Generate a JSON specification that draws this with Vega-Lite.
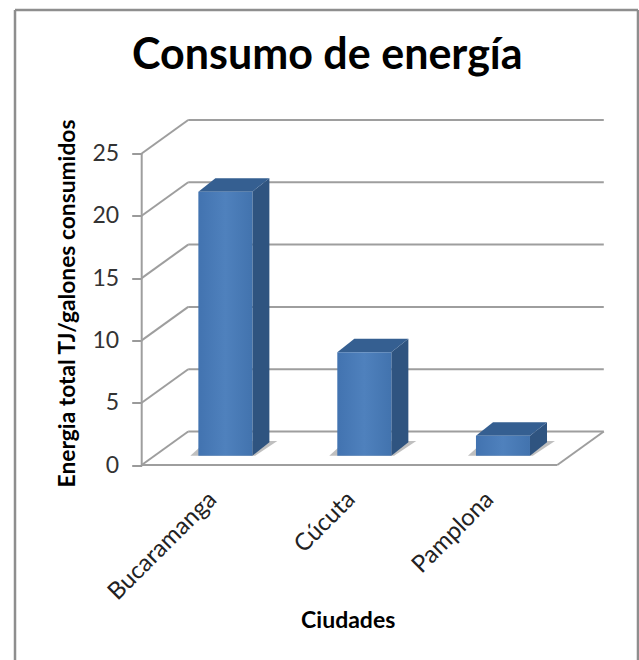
{
"$schema":"https://vega.github.io/schema/vega-lite/v6.json",
"width":463.3,"height":345.5,"autosize":"none",
"padding":{"left":141.7,"top":119.5,"right":34,"bottom":195},
"background":"white",
"config":{"view":{"stroke":null}},
"title":{"text":"Consumo de energía","font":"Lato","fontSize":43,"fontWeight":"bold","color":"#000000","anchor":"middle","frame":"group","dx":-46,"offset":-69},
"datasets":{
"marco":[{"x":-0.9146,"x2":3.5826,"y":36.52,"y2":36.52},{"x":-0.9146,"x2":-0.9146,"y":36.52,"y2":-15.65},{"x":3.5826,"x2":3.5826,"y":36.52,"y2":-15.65}],
"lineas":[
{"x":0,"x2":0,"y":0,"y2":25},{"x":0,"x2":3,"y":0,"y2":0},{"x":3,"x2":3.3358,"y":0,"y2":2.689},
{"x":0,"x2":0.3357,"y":0,"y2":2.689},{"x":0,"x2":0.3357,"y":5,"y2":7.689},{"x":0,"x2":0.3357,"y":10,"y2":12.689},{"x":0,"x2":0.3357,"y":15,"y2":17.689},{"x":0,"x2":0.3357,"y":20,"y2":22.689},{"x":0,"x2":0.3357,"y":25,"y2":27.689},
{"x":0.3357,"x2":3.3358,"y":2.689,"y2":2.689},{"x":0.3357,"x2":3.3358,"y":7.689,"y2":7.689},{"x":0.3357,"x2":3.3358,"y":12.689,"y2":12.689},{"x":0.3357,"x2":3.3358,"y":17.689,"y2":17.689},{"x":0.3357,"x2":3.3358,"y":22.689,"y2":22.689},{"x":0.3357,"x2":3.3358,"y":27.689,"y2":27.689}],
"sombra":[
{"ciudad":"Bucaramanga","y":0.746,"x":0.351,"x2":0.819},{"ciudad":"Bucaramanga","y":1.93,"x":0.469,"x2":0.979},
{"ciudad":"Cúcuta","y":0.746,"x":1.354,"x2":1.822},{"ciudad":"Cúcuta","y":1.93,"x":1.472,"x2":1.982},
{"ciudad":"Pamplona","y":0.746,"x":2.355,"x2":2.823},{"ciudad":"Pamplona","y":1.93,"x":2.473,"x2":2.983}],
"lado":[
{"ciudad":"Bucaramanga","x":0.799,"y":21.94,"y2":0.746},{"ciudad":"Bucaramanga","x":0.9217,"y":23.02,"y2":1.83},
{"ciudad":"Cúcuta","x":1.802,"y":9.05,"y2":0.746},{"ciudad":"Cúcuta","x":1.925,"y":10.13,"y2":1.83},
{"ciudad":"Pamplona","x":2.803,"y":2.35,"y2":0.746},{"ciudad":"Pamplona","x":2.926,"y":3.43,"y2":1.83}],
"tapa":[
{"ciudad":"Bucaramanga","y":21.94,"x":0.409,"x2":0.799},{"ciudad":"Bucaramanga","y":23.02,"x":0.532,"x2":0.922},
{"ciudad":"Cúcuta","y":9.05,"x":1.412,"x2":1.802},{"ciudad":"Cúcuta","y":10.13,"x":1.535,"x2":1.925},
{"ciudad":"Pamplona","y":2.35,"x":2.413,"x2":2.803},{"ciudad":"Pamplona","y":3.43,"x":2.536,"x2":2.926}],
"barras":[
{"ciudad":"Bucaramanga","energia":21.2,"x":0.409,"x2":0.799,"y":21.94,"y2":0.746},
{"ciudad":"Cúcuta","energia":8.3,"x":1.412,"x2":1.802,"y":9.05,"y2":0.746},
{"ciudad":"Pamplona","energia":1.6,"x":2.413,"x2":2.803,"y":2.35,"y2":0.746}]
},
"encoding":{
"x":{"field":"x","type":"quantitative","scale":{"domain":[0,3.3445],"nice":false,"zero":false},"title":"Ciudades",
"axis":{"values":[0.5,1.5,2.5],"labelExpr":"datum.value==0.5?'Bucaramanga':datum.value==1.5?'Cúcuta':'Pamplona'","labelAngle":-45,"labelAlign":"right","labelBaseline":"top","labelFont":"Lato","labelFontSize":24,"labelColor":"#222222","labelPadding":22,"labelOffset":-7,"labelFlush":false,"labelOverlap":false,"labelBound":false,"tickSize":0,"domain":false,"grid":false,"titleFont":"Lato","titleFontSize":23,"titleFontWeight":"bold","titleColor":"#000000","titleX":206,"titleY":162,"titleAlign":"center","titleBaseline":"alphabetic"}},
"y":{"field":"y","type":"quantitative","scale":{"domain":[0,27.73],"nice":false,"zero":false},"title":"Energia total TJ/galones consumidos",
"axis":{"values":[0,5,10,15,20,25],"labelFont":"Lato","labelFontSize":23,"labelColor":"#333333","labelPadding":13,"tickSize":10,"tickColor":"#9a9a9a","tickWidth":2,"domain":false,"grid":false,"titleFont":"Lato","titleFontSize":22.8,"titleFontWeight":"bold","titleColor":"#000000","titleX":-67,"titleY":183.5,"titleAlign":"center","titleBaseline":"alphabetic","titleAngle":-90,"labelOverlap":false,"labelFlush":false,"labelBound":false}}
},
"layer":[
{"data":{"name":"marco"},"mark":{"type":"rule","stroke":"#8e8e8e","strokeWidth":2.5},"encoding":{"x2":{"field":"x2"},"y2":{"field":"y2"}}},
{"data":{"name":"lineas"},"mark":{"type":"rule","stroke":"#9e9e9e","strokeWidth":2},"encoding":{"x2":{"field":"x2"},"y2":{"field":"y2"}}},
{"data":{"name":"sombra"},"mark":{"type":"area","orient":"horizontal","fill":"#8a8a8a","opacity":0.55},"encoding":{"detail":{"field":"ciudad"},"x2":{"field":"x2"}}},
{"data":{"name":"lado"},"mark":{"type":"area","orient":"vertical","fill":"#2f5480"},"encoding":{"detail":{"field":"ciudad"},"y2":{"field":"y2"}}},
{"data":{"name":"tapa"},"mark":{"type":"area","orient":"horizontal","fill":"#355f91"},"encoding":{"detail":{"field":"ciudad"},"x2":{"field":"x2"}}},
{"data":{"name":"barras"},"mark":{"type":"rect","color":{"gradient":"linear","x1":0,"y1":0,"x2":1,"y2":0,"stops":[{"offset":0,"color":"#4273b0"},{"offset":0.5,"color":"#4f81bd"},{"offset":1,"color":"#4273ae"}]}},"encoding":{"x2":{"field":"x2"},"y2":{"field":"y2"},"tooltip":[{"field":"ciudad"},{"field":"energia","type":"quantitative"}]}}
]
}
